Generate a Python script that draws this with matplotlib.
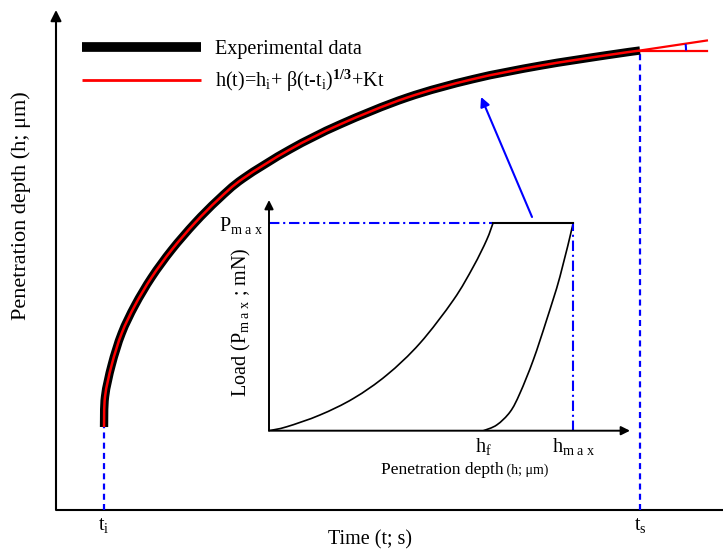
import matplotlib
matplotlib.use("Agg")
import matplotlib.pyplot as plt
from matplotlib.lines import Line2D
from matplotlib.patches import Arc, PathPatch
from matplotlib.path import Path

plt.rcParams['font.family'] = ['Liberation Serif', 'DejaVu Serif']
plt.rcParams['mathtext.fontset'] = 'custom'
plt.rcParams['mathtext.rm'] = 'Liberation Serif'
plt.rcParams['mathtext.it'] = 'Liberation Serif:italic'
plt.rcParams['mathtext.bf'] = 'Liberation Serif:bold'

# ---------------- data (arbitrary units) -------------
t_exp = [8.64, 8.82, 10.02, 11.82, 14.21, 17.22, 20.82, 25.01, 29.15, 33.65,
         42.10, 51.10, 63.10, 75.03, 87.08, 99.08, 105.07]
h_exp = [16.6, 22.66, 29.02, 35.34, 40.94, 46.56, 52.04, 57.44, 62.06, 66.3,
         72.12, 77.12, 82.46, 86.18, 88.86, 90.96, 91.9]
t_fit = t_exp
h_fit = h_exp
t_i = 8.64
t_s = 105.07
t_tan = [105.07, 117.1]
h_tan_slope = [91.9, 93.9]
h_tan_flat = [91.9, 91.9]
time_ticks = [t_i, t_s]
time_tick_labels = [r't$_\mathrm{i}$', r't$_\mathrm{s}$']

h_load = [0, 4.9, 14.1, 23.4, 32.6, 41.8, 51.1, 56.6, 60.3, 62.1]
P_load = [0, 1.7, 6.8, 14.0, 24.1, 37.9, 56.7, 71.1, 82.7, 90.2]
h_unload = [59.4, 63.1, 66.8, 69.5, 73.2, 76.9, 80.6, 84.3]
P_unload = [0, 2.5, 8.2, 16.2, 30.6, 48.0, 66.8, 90.2]
P_max = 90.2
h_f = 59.4
h_max = 84.3
h_hold = [62.1, 84.3]
depth_tick_labels = [r'h$_\mathrm{f}$', r'h$_\mathrm{m\ a\ x}$']
load_tick_labels = [r'P$_\mathrm{m\ a\ x}$']

FS = 14.5


def smooth_path(xs, ys):
    """Smooth Bezier path passing through the given points (Catmull-Rom)."""
    pts = list(zip(xs, ys))
    n = len(pts)
    verts = [pts[0]]
    codes = [Path.MOVETO]
    for i in range(n - 1):
        p0 = pts[i - 1] if i > 0 else pts[i]
        p1 = pts[i]
        p2 = pts[i + 1]
        p3 = pts[i + 2] if i + 2 < n else pts[i + 1]
        c1 = (p1[0] + (p2[0] - p0[0]) / 6, p1[1] + (p2[1] - p0[1]) / 6)
        c2 = (p2[0] - (p3[0] - p1[0]) / 6, p2[1] - (p3[1] - p1[1]) / 6)
        verts += [c1, c2, p2]
        codes += [Path.CURVE4] * 3
    return Path(verts, codes)


fig = plt.figure(figsize=(7.23, 5.52), dpi=100)

# ---------------- main axes ----------------
ax = fig.add_axes([56/723, 42/552, 667/723, 500/552])
ax.set_xlim(0, 120)
ax.set_ylim(0, 100)
for s in ax.spines.values():
    s.set_visible(False)
ax.set_yticks([])
ax.set_xticks(time_ticks, time_tick_labels, fontsize=FS)
ax.tick_params(axis='x', length=0, pad=4)

ax.plot([0, 120], [0, 0], color='black', lw=1.5, clip_on=False, solid_capstyle='butt')
ax.annotate('', xy=(0, 100), xytext=(0, 0),
            arrowprops=dict(arrowstyle='-|>', color='black', lw=1.5,
                            mutation_scale=16, shrinkA=0, shrinkB=0))

ax.set_xlabel('Time (t; s)', fontsize=FS)
ax.xaxis.set_label_coords(0.471, -0.040)
ax.set_ylabel('Penetration depth (h; μm)', fontsize=16)
ax.yaxis.set_label_coords(-0.038, 0.608)

dash = (0, (2.7, 1.9))
ax.plot([t_i, t_i], [0, h_exp[0]], color='blue', lw=1.6, linestyle=dash)
ax.plot([t_s, t_s], [0, h_exp[-1]], color='blue', lw=1.6, linestyle=dash)

ax.add_patch(PathPatch(smooth_path(t_exp, h_exp), fill=False, edgecolor='black',
                       lw=6, capstyle='butt', joinstyle='round', zorder=3))
ax.add_patch(PathPatch(smooth_path(t_fit, h_fit), fill=False, edgecolor='red',
                       lw=1.8, capstyle='butt', joinstyle='round', zorder=4))
ax.plot(t_tan, h_tan_slope, color='red', lw=1.6, zorder=4)
ax.plot(t_tan, h_tan_flat, color='red', lw=1.6, zorder=4)
r = 46
ax.add_patch(Arc((t_s, h_exp[-1]), 2*r/5.558, 2*r/5.0, theta1=0, theta2=9,
                 color='blue', lw=1.5, zorder=5))

ax.annotate('', xy=(76.47, 82.6), xytext=(85.64, 58.6),
            arrowprops=dict(arrowstyle='-|>', color='blue', lw=1.5,
                            mutation_scale=14, shrinkA=0, shrinkB=0))

handles = [Line2D([], [], color='black', lw=7, solid_capstyle='butt'),
           Line2D([], [], color='red', lw=2, solid_capstyle='butt')]
labels = ['Experimental data',
          r'h(t)=h$_\mathrm{i}$+ β(t-t$_\mathrm{i}$)$^{\mathbf{1/3}}$+Kt']
fig.legend(handles, labels, loc='upper left',
           bbox_to_anchor=(82/723, 1 - 40/552), frameon=False,
           fontsize=FS, handlelength=5.9, handletextpad=0.7,
           labelspacing=0.45, borderpad=0, borderaxespad=0)

# ---------------- inset ----------------
axi = fig.add_axes([269/723, (552-430.7)/552, 361/723, 230.7/552])
axi.patch.set_visible(False)
axi.set_xlim(0, 100)
axi.set_ylim(0, 100)
for s in axi.spines.values():
    s.set_visible(False)
axi.annotate('', xy=(0, 100), xytext=(0, 0),
             arrowprops=dict(arrowstyle='-|>', color='black', lw=1.4,
                             mutation_scale=13, shrinkA=0, shrinkB=0))
axi.annotate('', xy=(100, 0), xytext=(0, 0),
             arrowprops=dict(arrowstyle='-|>', color='black', lw=1.4,
                             mutation_scale=13, shrinkA=0, shrinkB=0))
axi.set_xticks([h_f, h_max], depth_tick_labels, fontsize=FS)
axi.set_yticks([P_max], load_tick_labels, fontsize=FS)
axi.tick_params(length=0, pad=4)

dashdot = (0, (5, 1.8, 1, 1.8))
axi.plot([0, h_hold[0]], [P_max, P_max], color='blue', lw=1.5, linestyle=dashdot)
axi.plot([h_max, h_max], [0, P_max], color='blue', lw=1.5, linestyle=dashdot)
axi.add_patch(PathPatch(smooth_path(h_load, P_load), fill=False,
                        edgecolor='black', lw=1.2))
axi.add_patch(PathPatch(smooth_path(h_unload, P_unload), fill=False,
                        edgecolor='black', lw=1.2))
axi.plot(h_hold, [P_max, P_max], color='black', lw=1.5)

xl = axi.set_xlabel('Penetration depth', fontsize=12.5)
axi.xaxis.set_label_coords(0.479, -0.135)
axi.annotate(' (h; μm)', xy=(1, 0.08), xycoords=xl, fontsize=10,
             ha='left', va='bottom')
axi.set_ylabel(r'Load (P$_\mathrm{m\ a\ x}$ ; mN)', fontsize=FS)
axi.yaxis.set_label_coords(-0.045, 0.47)

fig.savefig('out.png', dpi=100)
